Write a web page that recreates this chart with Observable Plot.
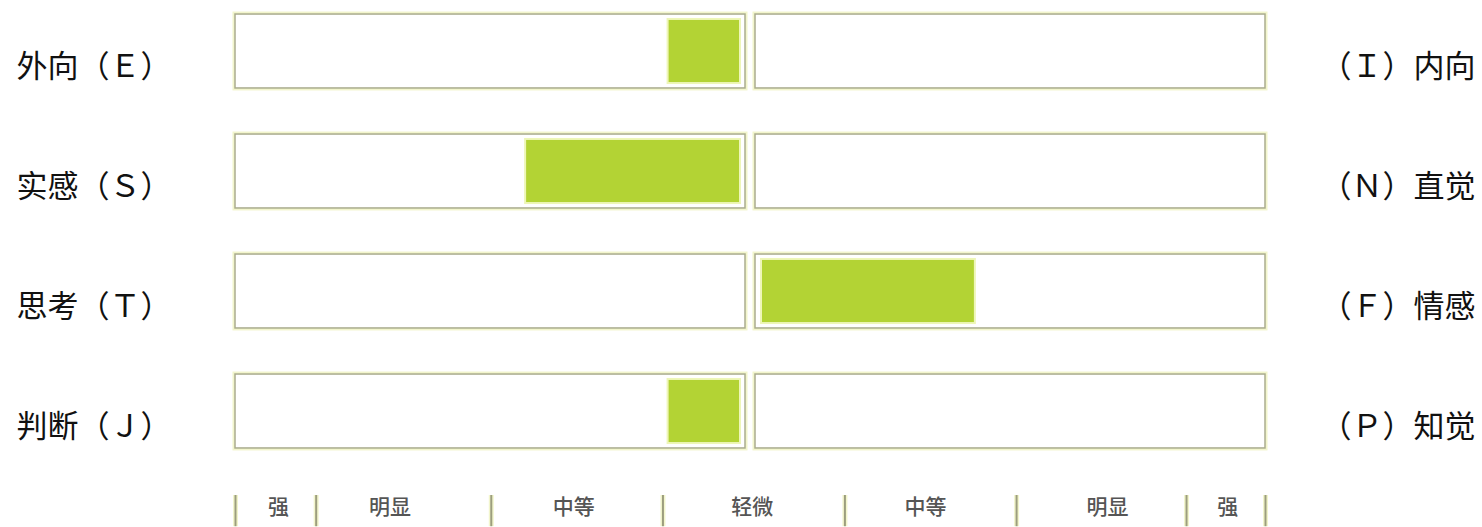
<!DOCTYPE html>
<html>
<head>
<meta charset="utf-8">
<script src="https://cdn.jsdelivr.net/npm/d3@7"></script>
<script src="https://cdn.jsdelivr.net/npm/@observablehq/plot@0.6"></script>
<style>
  html, body { margin: 0; padding: 0; background: #ffffff; }
  #chart svg { display: block; }
</style>
</head>
<body>
<div id="chart"></div>
<script>
// ---- data ----
const dimensions = ["EI", "SN", "TF", "JP"];
const leftLabels = ["外向（Ｅ）", "实感（Ｓ）", "思考（Ｔ）", "判断（Ｊ）"];
const rightLabels = ["（Ｉ）内向", "（Ｎ）直觉", "（Ｆ）情感", "（Ｐ）知觉"];
// negative = left pole preference, positive = right pole preference
const scores = [-4.8, -13.1, 13.1, -4.8];
const scaleMax = 30;
const scaleBounds = [-30, -25.3, -15.1, -5.1, 5.5, 15.5, 25.4, 30];
const scaleLabels = ["强", "明显", "中等", "轻微", "中等", "明显", "强"];
const scaleLabelPos = [-27.5, -21, -10.3, 0.1, 10.2, 20.8, 27.8];

const rows = dimensions.map((d, i) => ({
  dim: d, i, left: leftLabels[i], right: rightLabels[i], score: scores[i]
}));
const scaleTable = scaleLabels.map((t, i) => ({ t, pos: scaleLabelPos[i] }));

const boxHalf = 0.308, barHalf = 0.267;
const boxGlow = "#f2f5cc", boxStroke = "#aaac8e", barFill = "#b3d334", barGlow = "#eef6b8";
const font = "'Noto Sans CJK SC', 'Noto Sans', sans-serif";

const boxOpts = (side) => ({
  x1: () => side < 0 ? -scaleMax : 0,
  x2: () => side < 0 ? 0 : scaleMax,
  y1: d => d.i - boxHalf,
  y2: d => d.i + boxHalf,
  insetRight: side < 0 ? 5 : 0,
  insetLeft: side < 0 ? 0 : 5
});

const chart = Plot.plot({
  width: 1482,
  height: 527,
  marginLeft: 0, marginRight: 0, marginTop: 0, marginBottom: 0,
  style: { fontFamily: font, background: "#ffffff" },
  x: { domain: [-scaleMax, scaleMax], range: [235, 1265], axis: null },
  y: { domain: [0, 4], range: [51, 531], axis: null },
  marks: [
    // boxes: glow + border
    Plot.rect(rows, { ...boxOpts(-1), fill: "white", stroke: boxGlow, strokeWidth: 5 }),
    Plot.rect(rows, { ...boxOpts(1), fill: "white", stroke: boxGlow, strokeWidth: 5 }),
    Plot.rect(rows, { ...boxOpts(-1), fill: "white", stroke: boxStroke, strokeWidth: 1.5 }),
    Plot.rect(rows, { ...boxOpts(1), fill: "white", stroke: boxStroke, strokeWidth: 1.5 }),
    // bars
    Plot.rect(rows.filter(d => d.score < 0), {
      x1: () => 0, x2: d => d.score,
      y1: d => d.i - barHalf, y2: d => d.i + barHalf,
      insetRight: 10, fill: barFill, stroke: barGlow, strokeWidth: 2
    }),
    Plot.rect(rows.filter(d => d.score > 0), {
      x1: () => 0, x2: d => d.score,
      y1: d => d.i - barHalf, y2: d => d.i + barHalf,
      insetLeft: 11, fill: barFill, stroke: barGlow, strokeWidth: 2
    }),
    // pole labels
    Plot.text(rows, {
      frameAnchor: "left", dx: 16, y: d => d.i + 0.133, text: "left",
      textAnchor: "start", fontSize: 31, fill: "#111"
    }),
    Plot.text(rows, {
      frameAnchor: "right", dx: -7, y: d => d.i + 0.133, text: "right",
      textAnchor: "end", fontSize: 31, fill: "#111"
    }),
    // bottom scale
    Plot.ruleX(scaleBounds, { y1: () => 3.7, y2: () => 3.96, stroke: boxGlow, strokeWidth: 5 }),
    Plot.ruleX(scaleBounds, { y1: () => 3.7, y2: () => 3.96, stroke: "#9c9e7e", strokeWidth: 2 }),
    Plot.text(scaleTable, {
      x: "pos", y: () => 3.8, text: "t", fontSize: 21, fill: "#555", fontWeight: 500
    })
  ]
});
document.getElementById("chart").appendChild(chart);
</script>
</body>
</html>
